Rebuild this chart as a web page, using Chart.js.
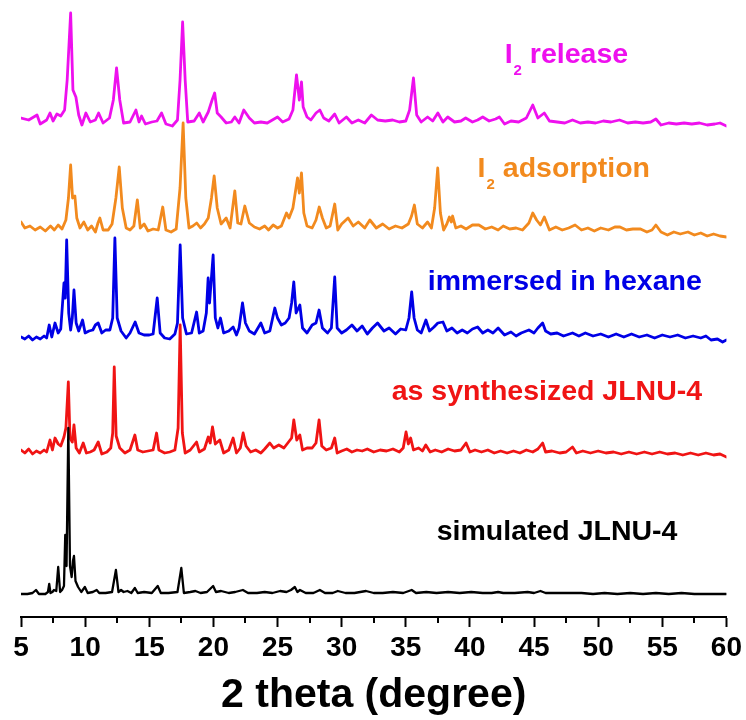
<!DOCTYPE html>
<html lang="en">
<head>
  <meta charset="UTF-8">
  <title>PXRD JLNU-4</title>
  <script src="https://cdn.jsdelivr.net/npm/chart.js@4/dist/chart.umd.min.js"></script>
  <style>
    html, body { margin: 0; padding: 0; background: #fff; }
  </style>
</head>
<body>
  <canvas id="xrdChart" width="746" height="720"></canvas>
  <script>
    // x axis: 2 theta, major tick labels
    const xTicks = [5, 10, 15, 20, 25, 30, 35, 40, 45, 50, 55, 60];

    // pattern names, bottom to top (I_2 -> subscript 2)
    const names = ['simulated JLNU-4', 'as synthesized JLNU-4', 'immersed in hexane', 'I_2 adsorption', 'I_2 release'];

    // vertical stacking offset of each pattern (a.u.)
    const offsets = [21, 159, 274, 379, 491];

    // [2theta, intensity]
    const simulated = [
      [5.0,2],[5.5,2],[5.9,3],[6.17,6],[6.4,2],[6.9,2],[7.1,4],[7.2,12],[7.3,3],[7.45,4],[7.57,6],[7.75,5],[7.9,29],[8.05,4],
      [8.2,6],[8.35,10],[8.45,61],[8.55,30],[8.69,168],[8.82,30],[8.95,19],[9.05,35],[9.13,40],[9.25,15],[9.45,9],[9.7,4],
      [9.98,9],[10.2,3],[10.6,4],[10.9,6],[11.1,3],[11.6,3],[12.1,4],[12.4,26],[12.6,4],[12.8,6],[13.0,4],[13.3,5],[13.6,3],
      [13.88,8],[14.1,3],[14.6,4],[15.2,3],[15.66,10],[15.9,3],[16.5,3],[17.2,4],[17.5,28],[17.7,3],[18.2,4],[18.6,5],[19.0,3],
      [19.5,4],[19.98,10],[20.2,4],[20.6,5],[21.2,3],[21.7,4],[22.3,6],[22.7,3],[23.4,3],[24.0,4],[24.6,3],[25.2,5],[25.7,4],
      [26.05,6],[26.35,9],[26.55,4],[26.75,6],[27.2,3],[27.8,3],[28.3,6],[28.7,3],[29.3,3],[29.7,5],[30.3,3],[31.0,3],[31.9,5],
      [32.5,3],[33.2,3],[34.0,4],[34.8,3],[35.46,6],[35.8,3],[36.6,4],[37.4,3],[38.3,4],[39.2,3],[40.1,4],[41.0,3],[41.7,3],
      [42.2,4],[42.6,3],[43.5,3],[44.5,4],[45.0,3],[45.5,5],[45.9,3],[46.8,3],[47.8,3],[48.7,3],[49.6,2],[50.5,3],[51.5,2],
      [52.5,3],[53.5,2],[54.5,3],[55.5,2],[56.5,3],[57.5,2],[58.5,2],[59.5,2],[60.0,2]
    ];

    const asSynthesized = [
      [5.0,8],[5.3,5],[5.6,9],[5.9,4],[6.2,7],[6.5,5],[6.8,8],[7.0,6],[7.26,18],[7.45,8],[7.65,20],[7.9,14],[8.1,12],[8.35,21],
      [8.5,30],[8.69,76],[8.82,20],[9.0,16],[9.13,33],[9.3,10],[9.55,5],[9.85,15],[10.1,5],[10.4,6],[10.7,8],[11.02,16],[11.3,4],
      [11.7,6],[12.0,10],[12.15,25],[12.27,91],[12.42,22],[12.7,10],[13.1,5],[13.5,8],[13.88,23],[14.1,8],[14.5,6],[14.9,7],
      [15.3,8],[15.57,25],[15.75,8],[16.2,5],[16.6,6],[17.0,8],[17.25,30],[17.41,133],[17.58,25],[17.8,5],[18.2,8],[18.69,16],
      [18.9,6],[19.3,9],[19.6,21],[19.75,15],[19.93,31],[20.15,14],[20.5,18],[20.8,5],[21.2,8],[21.54,20],[21.8,5],[22.1,10],
      [22.32,25],[22.55,12],[22.9,6],[23.3,8],[23.7,5],[24.0,9],[24.4,15],[24.7,10],[25.1,13],[25.5,10],[25.8,15],[26.1,20],
      [26.27,38],[26.5,18],[26.74,23],[26.95,8],[27.3,10],[27.7,10],[28.0,15],[28.24,38],[28.45,12],[28.8,8],[29.2,10],[29.46,20],
      [29.65,5],[30.0,7],[30.4,9],[30.8,6],[31.2,8],[31.6,7],[32.0,9],[32.5,6],[33.0,8],[33.5,7],[34.0,9],[34.5,6],[34.8,10],
      [35.02,26],[35.2,14],[35.38,20],[35.6,8],[36.0,10],[36.3,7],[36.56,13],[36.9,6],[37.3,8],[37.8,6],[38.3,9],[38.8,7],[39.3,8],
      [39.7,15],[40.0,6],[40.4,8],[40.9,6],[41.4,8],[41.9,5],[42.4,7],[42.9,5],[43.4,7],[43.9,5],[44.4,8],[44.9,6],[45.3,9],
      [45.67,15],[45.9,6],[46.4,7],[47.0,5],[47.5,6],[48.0,11],[48.3,5],[48.8,7],[49.4,5],[50.0,7],[50.6,5],[51.2,6],[51.8,4],
      [52.4,6],[53.0,4],[53.6,6],[54.2,4],[54.8,6],[55.4,4],[56.0,5],[56.6,3],[57.2,5],[57.8,3],[58.4,5],[59.0,3],[59.5,4],[60.0,1]
    ];

    const hexane = [
      [5.0,6],[5.3,4],[5.6,7],[5.9,3],[6.2,6],[6.5,4],[6.8,7],[7.0,5],[7.2,18],[7.4,6],[7.65,20],[7.9,10],[8.1,14],[8.35,60],
      [8.45,45],[8.56,103],[8.72,30],[8.87,13],[9.0,25],[9.13,53],[9.3,20],[9.5,12],[9.8,23],[10.0,10],[10.3,12],[10.6,13],
      [10.8,18],[11.02,20],[11.3,10],[11.6,13],[11.93,13],[12.15,25],[12.32,105],[12.5,25],[12.8,12],[13.2,5],[13.5,10],[13.9,21],
      [14.2,10],[14.6,8],[15.0,8],[15.3,9],[15.62,45],[15.85,10],[16.2,5],[16.6,4],[17.0,9],[17.2,20],[17.41,98],[17.6,25],
      [17.9,9],[18.3,10],[18.69,31],[18.9,10],[19.2,12],[19.45,30],[19.59,65],[19.7,40],[19.98,88],[20.15,25],[20.35,15],
      [20.55,25],[20.8,10],[21.2,12],[21.54,16],[21.8,8],[22.0,15],[22.27,40],[22.5,20],[22.8,12],[23.2,9],[23.7,20],[24.0,10],
      [24.4,12],[24.79,35],[25.0,25],[25.3,18],[25.6,20],[25.9,25],[26.1,40],[26.27,61],[26.45,30],[26.74,38],[26.95,15],
      [27.3,10],[27.7,18],[28.0,20],[28.24,33],[28.5,15],[28.9,10],[29.2,15],[29.46,66],[29.65,15],[30.0,10],[30.37,13],[30.8,18],
      [31.2,12],[31.6,17],[32.0,9],[32.4,15],[32.8,20],[33.3,12],[33.7,15],[34.2,9],[34.6,14],[35.0,13],[35.25,25],[35.46,51],
      [35.65,25],[35.9,13],[36.2,10],[36.57,23],[36.85,12],[37.2,16],[37.5,20],[37.9,21],[38.2,12],[38.6,15],[39.0,10],[39.4,13],
      [39.8,10],[40.2,14],[40.6,16],[41.0,10],[41.4,13],[41.8,10],[42.2,15],[42.7,8],[43.2,11],[43.6,7],[44.0,10],[44.6,13],
      [45.0,10],[45.3,15],[45.67,20],[45.9,12],[46.3,9],[46.8,10],[47.3,7],[48.0,10],[48.5,7],[49.0,10],[49.6,7],[50.2,9],
      [50.8,6],[51.4,9],[52.0,6],[52.6,9],[53.2,6],[53.8,8],[54.4,5],[55.0,8],[55.6,6],[56.2,8],[56.8,5],[57.4,7],[58.0,5],
      [58.4,7],[58.8,3],[59.3,4],[59.7,1],[60.0,3]
    ];

    const adsorption = [
      [5.0,16],[5.3,10],[5.7,12],[6.1,8],[6.5,11],[6.9,7],[7.3,12],[7.6,8],[7.9,13],[8.2,9],[8.5,18],[8.7,40],[8.87,73],[9.02,40],
      [9.2,42],[9.35,20],[9.6,10],[9.9,16],[10.2,8],[10.5,12],[10.8,6],[11.0,15],[11.15,20],[11.4,8],[11.8,8],[12.1,14],[12.4,40],
      [12.66,71],[12.9,30],[13.2,10],[13.5,8],[13.8,12],[14.07,38],[14.3,10],[14.6,14],[14.9,7],[15.3,9],[15.7,8],[16.05,31],
      [16.3,8],[16.7,6],[17.1,9],[17.4,50],[17.64,115],[17.85,40],[18.1,10],[18.4,12],[18.7,15],[19.0,10],[19.3,14],[19.6,20],
      [19.85,40],[20.06,62],[20.3,30],[20.6,14],[21.0,20],[21.3,10],[21.67,47],[21.9,15],[22.15,14],[22.45,32],[22.8,15],
      [23.2,11],[23.6,9],[24.0,12],[24.3,8],[24.66,13],[25.0,10],[25.3,12],[25.7,25],[25.9,20],[26.2,30],[26.56,60],[26.7,45],
      [26.87,65],[27.05,25],[27.3,12],[27.7,10],[28.0,18],[28.25,31],[28.5,20],[28.8,10],[29.1,12],[29.46,34],[29.7,8],[30.0,14],
      [30.5,20],[30.9,12],[31.3,16],[31.8,10],[32.2,18],[32.7,10],[33.2,14],[33.7,9],[34.2,12],[34.7,10],[35.2,14],[35.45,22],
      [35.67,33],[35.9,14],[36.3,10],[36.7,16],[37.0,10],[37.25,30],[37.49,70],[37.7,25],[37.95,8],[38.2,14],[38.4,21],[38.55,16],
      [38.65,22],[38.9,10],[39.3,12],[39.7,9],[40.2,13],[40.7,13],[41.2,9],[41.7,11],[42.2,8],[42.6,12],[43.1,9],[43.6,10],
      [44.1,8],[44.6,15],[44.9,25],[45.2,18],[45.5,13],[45.8,21],[46.2,8],[46.7,11],[47.2,8],[47.7,10],[48.2,13],[48.7,8],
      [49.2,10],[49.7,7],[50.2,10],[50.8,8],[51.3,11],[51.7,11],[52.2,8],[52.7,9],[53.3,9],[53.8,6],[54.2,8],[54.5,13],[54.9,6],
      [55.4,3],[55.9,6],[56.4,4],[57.0,6],[57.5,3],[58.0,5],[58.5,2],[59.0,4],[59.5,2],[60.0,1]
    ];

    const release = [
      [5.0,8],[5.6,6],[6.25,11],[6.5,2],[7.0,6],[7.26,13],[7.5,5],[7.8,12],[8.1,10],[8.4,16],[8.6,46],[8.87,113],[9.05,36],
      [9.28,29],[9.5,11],[9.75,1],[10.06,13],[10.4,4],[10.8,6],[11.05,13],[11.4,3],[11.9,8],[12.2,26],[12.45,58],[12.7,26],
      [13.0,3],[13.5,4],[13.96,16],[14.2,4],[14.4,10],[14.7,2],[15.2,4],[15.6,5],[15.96,13],[16.3,2],[16.8,0],[17.2,6],[17.4,46],
      [17.6,104],[17.8,46],[18.0,4],[18.5,5],[18.9,13],[19.2,4],[19.6,14],[19.9,26],[20.1,33],[20.3,13],[20.6,9],[21.0,3],
      [21.4,4],[21.67,9],[22.0,3],[22.37,16],[22.8,8],[23.2,3],[23.7,4],[24.2,3],[24.6,6],[25.0,9],[25.4,4],[25.9,7],[26.2,16],
      [26.48,51],[26.7,26],[26.87,44],[27.0,19],[27.3,9],[27.6,6],[28.0,13],[28.3,16],[28.6,8],[29.0,5],[29.46,12],[29.8,3],
      [30.37,9],[30.8,3],[31.3,6],[31.8,3],[32.32,11],[32.8,6],[33.4,5],[33.98,6],[34.5,4],[35.0,5],[35.3,16],[35.6,48],[35.85,11],
      [36.2,4],[36.7,9],[37.1,5],[37.5,13],[37.9,4],[38.27,9],[38.8,4],[39.3,5],[39.67,8],[40.2,4],[40.6,6],[41.0,9],[41.5,5],
      [42.0,7],[42.3,9],[42.7,2],[43.2,5],[43.8,4],[44.4,8],[44.9,21],[45.3,8],[45.8,13],[46.2,5],[46.8,4],[47.4,3],[48.0,6],
      [48.6,3],[49.2,4],[49.8,3],[50.4,5],[51.0,4],[51.66,6],[52.3,3],[52.9,4],[53.5,3],[54.1,4],[54.5,7],[54.9,1],[55.5,3],
      [56.1,2],[56.7,3],[57.3,2],[57.9,3],[58.5,1],[59.1,2],[59.5,3],[60.0,0]
    ];

    const patterns = [simulated, asSynthesized, hexane, adsorption, release];
    const colors = ['#000000', '#f01414', '#0000e6', '#f28a1e', '#ee10ee'];
    const widths = [2.3, 2.8, 2.8, 2.8, 2.8];

    // where each name is written: [2theta of left edge, baseline height]
    const labelAt = [[37.41, 77], [33.9, 217], [36.71, 327], [40.6, 440], [42.71, 554]];

    const FONT = '"Liberation Sans", Arial, sans-serif';

    const extras = {
      id: 'extras',
      afterDraw(chart) {
        const ctx = chart.ctx;
        const xs = chart.scales.x, ys = chart.scales.y;
        const area = chart.chartArea;
        // minor ticks halfway between major ticks
        ctx.save();
        ctx.strokeStyle = '#000';
        ctx.lineWidth = 2;
        for (let i = 0; i < xTicks.length - 1; i++) {
          const px = Math.round(xs.getPixelForValue((xTicks[i] + xTicks[i + 1]) / 2));
          ctx.beginPath();
          ctx.moveTo(px, area.bottom);
          ctx.lineTo(px, area.bottom + 6);
          ctx.stroke();
        }
        // pattern names
        ctx.textBaseline = 'alphabetic';
        ctx.textAlign = 'left';
        names.forEach((name, i) => {
          let x = xs.getPixelForValue(labelAt[i][0]);
          const y = ys.getPixelForValue(labelAt[i][1]);
          ctx.fillStyle = colors[i];
          const parts = name.split(/_(\d)/);
          parts.forEach((part, k) => {
            if (k % 2 === 1) {
              ctx.font = 'bold 15px ' + FONT;
              ctx.fillText(part, x + 1, y + 12);
              x += ctx.measureText(part).width + 1;
            } else if (part) {
              ctx.font = 'bold 28.5px ' + FONT;
              ctx.fillText(part, x, y);
              x += ctx.measureText(part).width;
            }
          });
        });
        ctx.restore();
      }
    };

    new Chart(document.getElementById('xrdChart'), {
      type: 'line',
      data: {
        datasets: patterns.map((p, i) => ({
          label: names[i],
          data: p.map(([t, v]) => ({ x: t, y: v + offsets[i] })),
          borderColor: colors[i],
          borderWidth: widths[i],
          borderJoinStyle: 'round',
          borderCapStyle: 'round',
          pointRadius: 0,
          tension: 0,
          fill: false
        }))
      },
      options: {
        responsive: false,
        animation: false,
        events: [],
        layout: { padding: { top: 10, left: 21, right: 19, bottom: 0 } },
        plugins: { legend: { display: false }, tooltip: { enabled: false } },
        scales: {
          x: {
            type: 'linear',
            min: 5,
            max: 60,
            afterBuildTicks: s => { s.ticks = xTicks.map(v => ({ value: v })); },
            afterFit: s => { s.height = 103; },
            border: { display: true, color: '#000', width: 2 },
            grid: { display: true, drawOnChartArea: false, drawTicks: true, tickLength: 10, tickWidth: 2, tickColor: '#000' },
            ticks: { color: '#000', padding: 4, maxRotation: 0, font: { family: FONT, size: 28, weight: 'bold' } },
            title: {
              display: true,
              text: '2 theta (degree)',
              color: '#000',
              padding: { top: 0, bottom: 0 },
              font: { family: FONT, size: 41, weight: 'bold', lineHeight: 1.2 }
            }
          },
          y: { display: false, min: 0, max: 607 }
        }
      },
      plugins: [extras]
    });
  </script>
</body>
</html>
